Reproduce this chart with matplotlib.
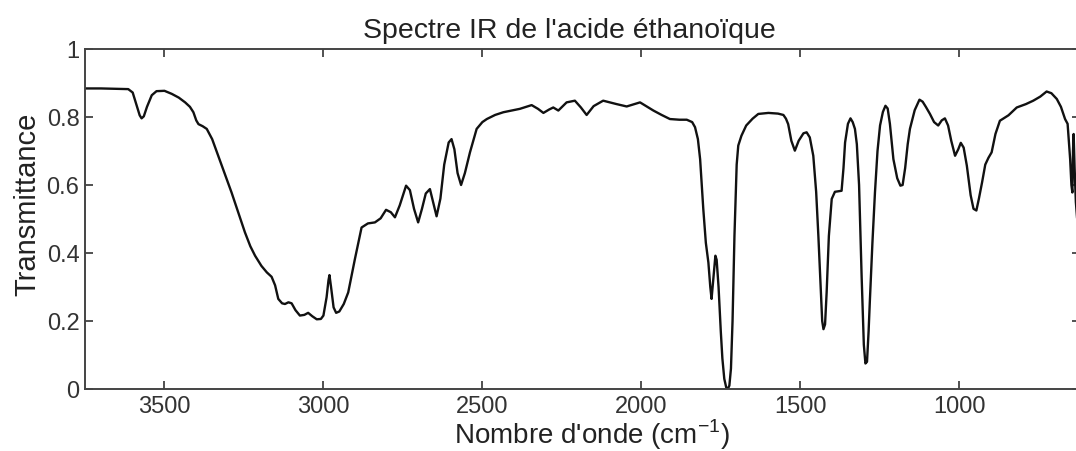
import matplotlib.pyplot as plt

# Spectre IR (nombre d'onde en cm-1, transmittance)
wavenumber = [3750, 3700, 3650, 3614, 3600, 3588, 3578, 3572, 3565, 3555, 3540, 3525, 3500,
              3477, 3455, 3435, 3420, 3409, 3400, 3393, 3380, 3367, 3350, 3331, 3310, 3289,
              3268, 3247, 3230, 3215, 3195, 3178, 3163, 3152, 3142, 3130, 3121, 3110, 3100,
              3088, 3074, 3060, 3048, 3035, 3021, 3008, 3000, 2990, 2984, 2981,
              2976, 2968, 2960, 2950, 2936, 2922, 2901, 2880, 2860, 2838, 2820, 2803, 2788,
              2775, 2760, 2740, 2728, 2715, 2702, 2690, 2678, 2665, 2655, 2644, 2632, 2620,
              2606, 2597, 2588, 2578, 2567, 2555, 2539, 2518,
              2500, 2486, 2460, 2434, 2382, 2345, 2325, 2308, 2290, 2277, 2261, 2235, 2209,
              2190, 2172, 2150, 2120, 2078, 2046, 2004, 1962, 1936, 1910, 1880, 1857, 1840,
              1831, 1822, 1815, 1805, 1797, 1789, 1783, 1779, 1773, 1767, 1763, 1757, 1750,
              1745, 1739, 1733, 1728, 1723, 1718, 1713, 1707, 1700, 1695, 1685, 1670, 1650,
              1632, 1600, 1570, 1553, 1545, 1538, 1528, 1517, 1505, 1490, 1480, 1470, 1459,
              1450, 1443, 1436, 1431, 1427, 1422, 1417, 1410, 1401, 1391, 1370, 1364, 1359,
              1350, 1342, 1335, 1328, 1322, 1315, 1307, 1300, 1295, 1290, 1285, 1281, 1273,
              1265, 1257, 1249, 1240, 1232, 1225, 1218, 1207, 1195, 1185, 1178, 1170, 1162,
              1155, 1140, 1125, 1115, 1105, 1092, 1079, 1066, 1055, 1045, 1035, 1025, 1013,
              1003, 995, 986, 976, 964, 955, 946, 938, 928, 918, 908, 898, 886, 872, 845,
              819, 790, 767, 745, 725, 710, 693, 680, 667, 659, 651, 647, 644, 642, 640,
              637, 633, 629]
transmittance = [0.884, 0.884, 0.883, 0.882, 0.872, 0.835, 0.805, 0.796, 0.802, 0.83, 0.864, 0.876, 0.877,
                 0.868, 0.857, 0.843, 0.83, 0.814, 0.79, 0.779, 0.773, 0.765, 0.735, 0.686, 0.632, 0.578,
                 0.52, 0.461, 0.42, 0.392, 0.362, 0.343, 0.33, 0.305, 0.265, 0.252, 0.25, 0.255, 0.252,
                 0.232, 0.216, 0.218, 0.224, 0.214, 0.205, 0.206, 0.216, 0.27, 0.32, 0.335,
                 0.3, 0.24, 0.224, 0.228, 0.25, 0.284, 0.382, 0.475, 0.487, 0.490, 0.502, 0.527, 0.52,
                 0.505, 0.54, 0.598, 0.585, 0.53, 0.490, 0.53, 0.575, 0.588, 0.55, 0.508, 0.56, 0.66,
                 0.725, 0.735, 0.705, 0.635, 0.600, 0.635, 0.696, 0.765,
                 0.785, 0.794, 0.806, 0.814, 0.824, 0.835, 0.824, 0.812, 0.822, 0.828, 0.819, 0.843, 0.848,
                 0.828, 0.806, 0.832, 0.848, 0.838, 0.831, 0.843, 0.819, 0.806, 0.794, 0.792, 0.792, 0.785,
                 0.770, 0.735, 0.676, 0.529, 0.43, 0.372, 0.3, 0.265, 0.33, 0.392, 0.38, 0.3, 0.17,
                 0.09, 0.03, 0.005, 0.0, 0.01, 0.06, 0.2, 0.45, 0.66, 0.716, 0.745, 0.775, 0.795,
                 0.809, 0.812, 0.81, 0.806, 0.795, 0.779, 0.73, 0.701, 0.73, 0.752, 0.755, 0.74, 0.686,
                 0.58, 0.45, 0.3, 0.2, 0.176, 0.19, 0.284, 0.45, 0.559, 0.580, 0.583, 0.65, 0.725,
                 0.78, 0.796, 0.785, 0.765, 0.72, 0.6, 0.333, 0.13, 0.075, 0.08, 0.17, 0.26, 0.43,
                 0.578, 0.7, 0.775, 0.815, 0.833, 0.825, 0.78, 0.676, 0.62, 0.598, 0.6, 0.65, 0.72,
                 0.765, 0.82, 0.851, 0.845, 0.83, 0.809, 0.785, 0.775, 0.79, 0.796, 0.775, 0.73, 0.686,
                 0.705, 0.724, 0.71, 0.657, 0.57, 0.53, 0.525, 0.56, 0.608, 0.66, 0.68, 0.696, 0.75, 0.789, 0.805,
                 0.828, 0.838, 0.848, 0.86, 0.875, 0.87, 0.853, 0.83, 0.794, 0.78, 0.676, 0.6, 0.578, 0.7, 0.75,
                 0.65, 0.55, 0.5]

x_ticks = [1000, 1500, 2000, 2500, 3000, 3500]
y_ticks = [0, 0.2, 0.4, 0.6, 0.8, 1]
y_tick_labels = ['0', '0.2', '0.4', '0.6', '0.8', '1']

plt.rcParams['font.family'] = ['Liberation Sans', 'DejaVu Sans']

W, H = 1076, 452
fig = plt.figure(figsize=(W / 100, H / 100), dpi=100)
# axes placed in pixels: left 85, right 1080, top 50, bottom 390
ax = fig.add_axes([85 / W, (H - 390) / H, (1080 - 85) / W, (390 - 50) / H])

ax.plot(wavenumber, transmittance, color='#111111', linewidth=1.7)

ax.set_xlim(3750, 620)
ax.set_ylim(0, 1)
ax.set_xticks(x_ticks)
ax.set_yticks(y_ticks)
ax.set_yticklabels(y_tick_labels)

ax.tick_params(direction='in', top=True, right=True, length=6, width=1.2,
               color='#333333', labelsize=17, labelcolor='#333333', pad=4)
for s in ax.spines.values():
    s.set_color('#444444')
    s.set_linewidth(1.4)

ax.set_title("Spectre IR de l'acide éthanoïque", fontsize=20.5, color='#222222', pad=9, x=0.487)
ax.set_xlabel(r"Nombre d'onde (cm$^{\mathregular{-1}}$)", fontsize=20, color='#222222',
              labelpad=0, x=0.509)
ax.set_ylabel('Transmittance', fontsize=21, color='#222222', labelpad=4, y=0.547)

fig.savefig('out.png', dpi=100)
